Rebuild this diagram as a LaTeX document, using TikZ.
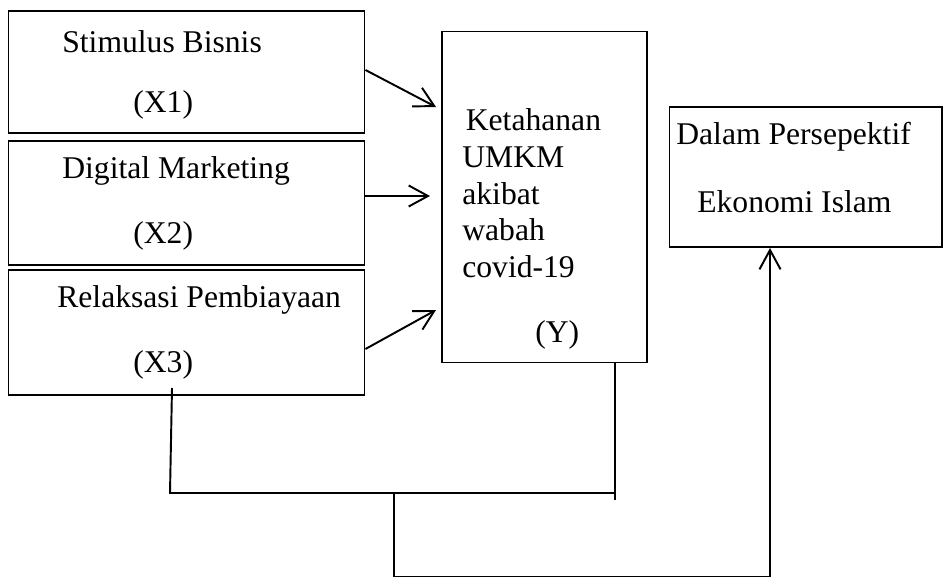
\documentclass[tikz,border=0pt]{standalone}
\usepackage{fontspec}
\setmainfont{Liberation Serif}
\usetikzlibrary{arrows.meta}
\tikzset{
    box/.style={draw=black, line width=0.6pt, inner sep=0pt},
    txt/.style={anchor=west, inner sep=0pt, font=\fontsize{18}{21}\selectfont},
    link/.style={draw=black, line width=1.1pt},
    arrow/.style={draw=black, line width=1.1pt, -{Straight Barb[length=11pt,width=12pt]}}
}

\begin{document}
\begin{tikzpicture}[x=0.02cm, y=-0.02cm]
    \useasboundingbox (0,0) rectangle (950,578);

    % boxes
    \node[box, minimum width=7.14cm, minimum height=2.44cm] (x1) at (186.5,72) {};
    \node[box, minimum width=7.14cm, minimum height=2.48cm] (x2) at (186.5,203) {};
    \node[box, minimum width=7.14cm, minimum height=2.5cm] (x3) at (186.5,332.5) {};
    \node[box, minimum width=4.1cm, minimum height=6.64cm] (y) at (544.5,197) {};
    \node[box, minimum width=5.46cm, minimum height=2.8cm] (islam) at (805.5,177) {};

    % texts
    \node[txt] (x1a) at (62,42) {Stimulus Bisnis};
    \node[txt] (x1b) at (133,105) {(X1)};
    \node[txt] (x2a) at (62,171) {Digital Marketing};
    \node[txt] (x2b) at (133,236) {(X2)};
    \node[txt] (x3a) at (57,300) {Relaksasi Pembiayaan};
    \node[txt] (x3b) at (133,365) {(X3)};
    \node[txt, align=left, anchor=north west] (ya) at (462,108) {\hspace{2pt}Ketahanan\\UMKM\\akibat\\wabah\\covid-19};
    \node[txt] (yb) at (535,335) {(Y)};
    \node[txt] (isa) at (676,137) {Dalam Persepektif};
    \node[txt] (isb) at (697,202) {Ekonomi Islam};

    % free ends
    \coordinate (t1) at (436,107);
    \coordinate (t2) at (430,196);
    \coordinate (t3) at (436,310);
    \coordinate (x3foot) at (172,388);
    \coordinate (yfoot) at (615,363);
    \coordinate (yjoin) at (615,493);
    \coordinate (yend) at (615,500);
    \coordinate (branch) at (394,493);
    \coordinate (islamfoot) at (770,248);

    % arrows
    \draw[arrow] ([yshift=0.04cm]x1.east) -- (t1);
    \draw[arrow] (x2.east |- t2) -- (t2);
    \draw[arrow] ([yshift=-0.33cm]x3.east) -- (t3);

    % lines
    \draw[link] (x3foot) -- (170,493) -- (yjoin);
    \draw[link] (yfoot) -- (yend);
    \draw[arrow] (branch) -- (394,576.5) -| (islamfoot);
\end{tikzpicture}
\end{document}
